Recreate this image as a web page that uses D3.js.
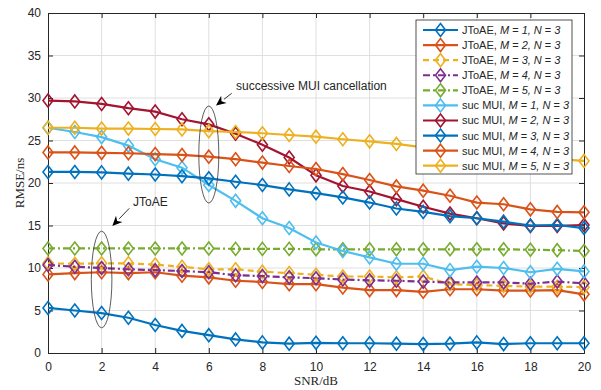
<!DOCTYPE html>
<html>
<head>
<meta charset="utf-8">
<script src="https://cdn.jsdelivr.net/npm/d3@7"></script>
<style>
  body { margin: 0; background: #fff; }
  svg text { fill: #262626; }
</style>
</head>
<body>
<div id="chart"></div>
<script>
// SNR values (dB)
const snr = d3.range(0, 21)

// JToAE curves, M = 1..5
const jtoaeM1 = [5.3, 5.0, 4.7, 4.15, 3.3, 2.6, 2.1, 1.6, 1.25, 1.1, 1.2, 1.15, 1.15, 1.1, 1.05, 1.1, 1.25, 1.05, 1.15, 1.15, 1.15]
const jtoaeM2 = [9.25, 9.4, 9.5, 9.4, 9.5, 9.1, 8.9, 8.5, 8.35, 8.1, 8.1, 7.7, 7.4, 7.4, 7.2, 7.5, 7.5, 7.35, 7.35, 7.4, 6.9]
const jtoaeM3 = [10.55, 10.5, 10.55, 10.55, 10.4, 10.15, 9.85, 9.85, 9.57, 9.4, 9.2, 9.0, 9.0, 8.9, 9.0, 8.1, 8.0, 7.9, 7.8, 7.8, 7.75]
const jtoaeM4 = [10.35, 10.15, 10.0, 9.85, 9.75, 9.65, 9.5, 9.15, 9.05, 8.9, 8.8, 8.65, 8.55, 8.5, 8.4, 8.3, 8.3, 8.3, 8.15, 8.4, 8.2]
const jtoaeM5 = [12.3, 12.3, 12.3, 12.3, 12.3, 12.3, 12.3, 12.25, 12.25, 12.25, 12.2, 12.2, 12.2, 12.2, 12.2, 12.2, 12.2, 12.2, 12.15, 12.1, 12.0]

// successive MUI cancellation curves, M = 1..5
const sucM1 = [26.5, 26.0, 25.4, 24.4, 22.8, 21.8, 19.76, 17.9, 15.85, 14.7, 13.0, 12.0, 11.25, 10.5, 10.5, 9.75, 10.15, 10.0, 9.5, 9.9, 9.6]
const sucM2 = [29.7, 29.6, 29.3, 28.8, 28.4, 27.5, 26.9, 25.8, 24.5, 23.0, 20.9, 19.65, 19.0, 18.1, 17.2, 16.4, 15.85, 15.25, 14.95, 14.95, 15.06]
const sucM3 = [21.3, 21.3, 21.25, 21.1, 21.0, 20.8, 20.55, 20.15, 19.76, 19.25, 18.8, 18.3, 17.7, 17.0, 16.6, 16.1, 15.85, 15.45, 15.0, 15.06, 14.7]
const sucM4 = [23.6, 23.6, 23.55, 23.5, 23.4, 23.3, 23.1, 22.8, 22.4, 22.0, 21.65, 21.05, 20.35, 19.6, 19.1, 18.5, 17.7, 17.5, 16.9, 16.6, 16.55]
const sucM5 = [26.5, 26.5, 26.4, 26.4, 26.35, 26.3, 26.1, 26.0, 25.85, 25.65, 25.45, 25.15, 24.9, 24.6, 24.2, 23.9, 23.6, 23.3, 23.0, 22.8, 22.6]

const seriesNames = [
  ['JToAE', '1'], ['JToAE', '2'], ['JToAE', '3'], ['JToAE', '4'], ['JToAE', '5'],
  ['suc MUI', '1'], ['suc MUI', '2'], ['suc MUI', '3'], ['suc MUI', '4'], ['suc MUI', '5']
]
const seriesValues = [jtoaeM1, jtoaeM2, jtoaeM3, jtoaeM4, jtoaeM5, sucM1, sucM2, sucM3, sucM4, sucM5]
const colors = ['#0072BD', '#D95319', '#EDB120', '#7E2F8E', '#77AC30',
                '#4DBEEE', '#A2142F', '#0072BD', '#D95319', '#EDB120']
const dashes = [null, null, '6,4', '7,3,2,3', '7,3,2,3', null, null, null, null, null]

const xTicks = d3.range(0, 21, 2)
const yTicks = d3.range(0, 41, 5)

const W = 601, H = 390
const margin = {top: 13, right: 17, bottom: 37, left: 48}

const x = d3.scaleLinear().domain([0, 20]).range([margin.left, W - margin.right])
const y = d3.scaleLinear().domain([0, 40]).range([H - margin.bottom, margin.top])

const svg = d3.select('#chart').append('svg')
  .attr('width', W).attr('height', H)
  .style('font-family', '"Liberation Sans", Arial, sans-serif')

// grid
const grid = svg.append('g').attr('stroke', '#dfdfdf').attr('stroke-width', 1)
grid.selectAll('.gx').data(xTicks.slice(1, -1)).enter().append('line')
  .attr('x1', d => x(d)).attr('x2', d => x(d))
  .attr('y1', y(0)).attr('y2', y(40))
grid.selectAll('.gy').data(yTicks.slice(1, -1)).enter().append('line')
  .attr('y1', d => y(d)).attr('y2', d => y(d))
  .attr('x1', x(0)).attr('x2', x(20))

// axes (ticks inward)
const tl = 5
const axisColor = '#262626'
svg.append('g').attr('transform', `translate(0,${y(0)})`)
  .call(d3.axisBottom(x).tickValues(xTicks).tickSize(-tl).tickPadding(9))
svg.append('g').attr('transform', `translate(0,${y(40)})`)
  .call(d3.axisTop(x).tickValues(xTicks).tickSize(-tl).tickFormat(''))
svg.append('g').attr('transform', `translate(${x(0)},0)`)
  .call(d3.axisLeft(y).tickValues(yTicks).tickSize(-tl).tickPadding(7))
svg.append('g').attr('transform', `translate(${x(20)},0)`)
  .call(d3.axisRight(y).tickValues(yTicks).tickSize(-tl).tickFormat(''))
svg.selectAll('.domain').attr('stroke', axisColor)
svg.selectAll('.tick line').attr('stroke', axisColor)
svg.selectAll('.tick text').attr('fill', axisColor)
  .style('font-size', '12px').style('font-family', '"Liberation Sans", Arial, sans-serif')

// axis labels
svg.append('text')
  .attr('x', (x(0) + x(20)) / 2).attr('y', 385)
  .attr('text-anchor', 'middle')
  .style('font-family', '"Liberation Serif", "Times New Roman", serif')
  .style('font-size', '13px')
  .text('SNR/dB')
svg.append('text')
  .attr('transform', `translate(24,${(y(0) + y(40)) / 2}) rotate(-90)`)
  .attr('text-anchor', 'middle')
  .style('font-family', '"Liberation Serif", "Times New Roman", serif')
  .style('font-size', '13px')
  .text('RMSE/ns')

const diamond = 'M0,-6.5L5,0L0,6.5L-5,0Z'

const line = d3.line().x((d, i) => x(snr[i])).y(d => y(d))

// series
seriesValues.forEach((vals, k) => {
  const g = svg.append('g')
  g.append('path')
    .datum(vals)
    .attr('d', line)
    .attr('fill', 'none')
    .attr('stroke', colors[k])
    .attr('stroke-width', 2.2)
    .attr('stroke-dasharray', dashes[k])
  g.selectAll('path.mk').data(vals).enter().append('path')
    .attr('class', 'mk')
    .attr('d', diamond)
    .attr('transform', (d, i) => `translate(${x(snr[i])},${y(d)})`)
    .attr('fill', 'none')
    .attr('stroke', colors[k])
    .attr('stroke-width', 1.6)
})

// annotations
const ann = svg.append('g')
ann.append('ellipse').attr('cx', x(6)).attr('cy', 154.5).attr('rx', 10).attr('ry', 48.5)
  .attr('fill', 'none').attr('stroke', '#333').attr('stroke-width', 0.8)
ann.append('ellipse').attr('cx', x(2)).attr('cy', 279.5).attr('rx', 10.3).attr('ry', 48.3)
  .attr('fill', 'none').attr('stroke', '#333').attr('stroke-width', 0.8)

function arrow(x1, y1, x2, y2) {
  const a = Math.atan2(y2 - y1, x2 - x1)
  const len = 10, hw = 4.5
  const bx = x2 - len * Math.cos(a), by = y2 - len * Math.sin(a)
  ann.append('line').attr('x1', x1).attr('y1', y1).attr('x2', bx).attr('y2', by)
    .attr('stroke', '#000').attr('stroke-width', 0.8)
  const p1 = [bx + hw * Math.sin(a), by - hw * Math.cos(a)]
  const p2 = [bx - hw * Math.sin(a), by + hw * Math.cos(a)]
  ann.append('path').attr('d', `M${x2},${y2}L${p1}L${bx + 3 * Math.cos(a)},${by + 3 * Math.sin(a)}L${p2}Z`)
    .attr('fill', '#000')
}
arrow(231.7, 93.3, 216, 105.5)
arrow(129.3, 208.3, 112.3, 226)

ann.append('text').attr('x', 236).attr('y', 90).style('font-size', '12px')
  .text('successive MUI cancellation')
ann.append('text').attr('x', 133).attr('y', 206).style('font-size', '12px')
  .text('JToAE')

// legend
const lg = svg.append('g')
lg.append('rect').attr('x', 416).attr('y', 20).attr('width', 156).attr('height', 154)
  .attr('fill', '#fff').attr('stroke', axisColor).attr('stroke-width', 0.8)
const rowH = 15.08
seriesNames.forEach((nm, k) => {
  const cy = 30 + k * rowH
  lg.append('line').attr('x1', 423).attr('x2', 458).attr('y1', cy).attr('y2', cy)
    .attr('stroke', colors[k]).attr('stroke-width', 2.2)
    .attr('stroke-dasharray', dashes[k])
  lg.append('path').attr('d', diamond).attr('transform', `translate(440.5,${cy})`)
    .attr('fill', 'none').attr('stroke', colors[k]).attr('stroke-width', 1.6)
  const t = lg.append('text').attr('x', 462).attr('y', cy + 4).style('font-size', '11px')
  t.append('tspan').text(nm[0] + ', ')
  t.append('tspan').style('font-style', 'italic').text('M')
  t.append('tspan').text(' = ')
  t.append('tspan').style('font-style', 'italic').text(nm[1] + ', N')
  t.append('tspan').text(' = ')
  t.append('tspan').style('font-style', 'italic').text('3')
})
</script>
</body>
</html>
